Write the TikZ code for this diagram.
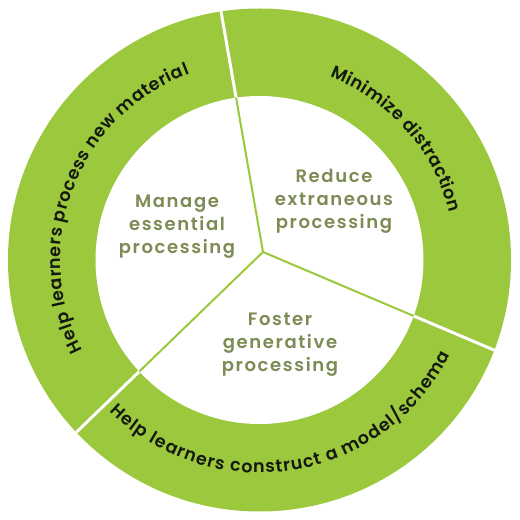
\documentclass[tikz,border=0pt]{standalone}
\usepackage{fontspec}
\newfontfamily\popm{Poppins SemiBold}
\newfontfamily\popi{Poppins SemiBold}[LetterSpace=9]
\usetikzlibrary{decorations.text}
\definecolor{ringgreen}{RGB}{155,200,60}
\definecolor{innertext}{RGB}{125,140,85}
\definecolor{outertext}{RGB}{20,25,15}
\newcommand\ringfont{\popm\fontsize{17.5}{20}\selectfont}
\begin{document}
\begin{tikzpicture}[x=1pt,y=1pt,
  innerlabel/.style={text=innertext, align=center, font=\popi\fontsize{18}{23}\selectfont},
  ringlabel/.style={decorate, decoration={text along path, text align=fit to path, text color=outertext}},
  gap/.style={white, line width=3},
  divider/.style={ringgreen, line width=2}
]
\useasboundingbox (0,0) rectangle (520,520);
\coordinate (C) at (259.5,260);
\coordinate (H) at (263,268);
\path (H) ++(99.9:300) coordinate (dirA);
\path (H) ++(-23:300) coordinate (dirB);
\path (H) ++(224:300) coordinate (dirC);
\fill[ringgreen] (C) circle[radius=251.5];
\begin{scope}
  \clip (C) circle[radius=251.5];
  \draw[gap] (H) -- (dirA);
  \draw[gap] (H) -- (dirB);
  \draw[gap] (H) -- (dirC);
\end{scope}
\fill[white] (C) circle[radius=164];
\begin{scope}
  \clip (C) circle[radius=164];
  \draw[divider] (H) -- (dirA);
  \draw[divider] (H) -- (dirB);
  \draw[divider] (H) -- (dirC);
\end{scope}
\path[ringlabel, decoration={text={|\ringfont|Help learners process new material}}]
  (C) ++(207:199) arc[start angle=207, end angle=110.5, radius=199];
\path[ringlabel, decoration={text={|\ringfont|Minimize distraction}}]
  (C) ++(69:196) arc[start angle=69, end angle=14, radius=196];
\path[ringlabel, decoration={text={|\ringfont|Help learners construct a model/schema}}]
  (C) ++(225.4:213) arc[start angle=225.4, end angle=333.6, radius=213];
\node[innerlabel] (manage) at (177,293) {Manage\\essential\\processing};
\node[innerlabel] (reduce) at (334,319) {Reduce\\extraneous\\processing};
\node[innerlabel] (foster) at (280,175) {Foster\\generative\\processing};
\end{tikzpicture}
\end{document}
